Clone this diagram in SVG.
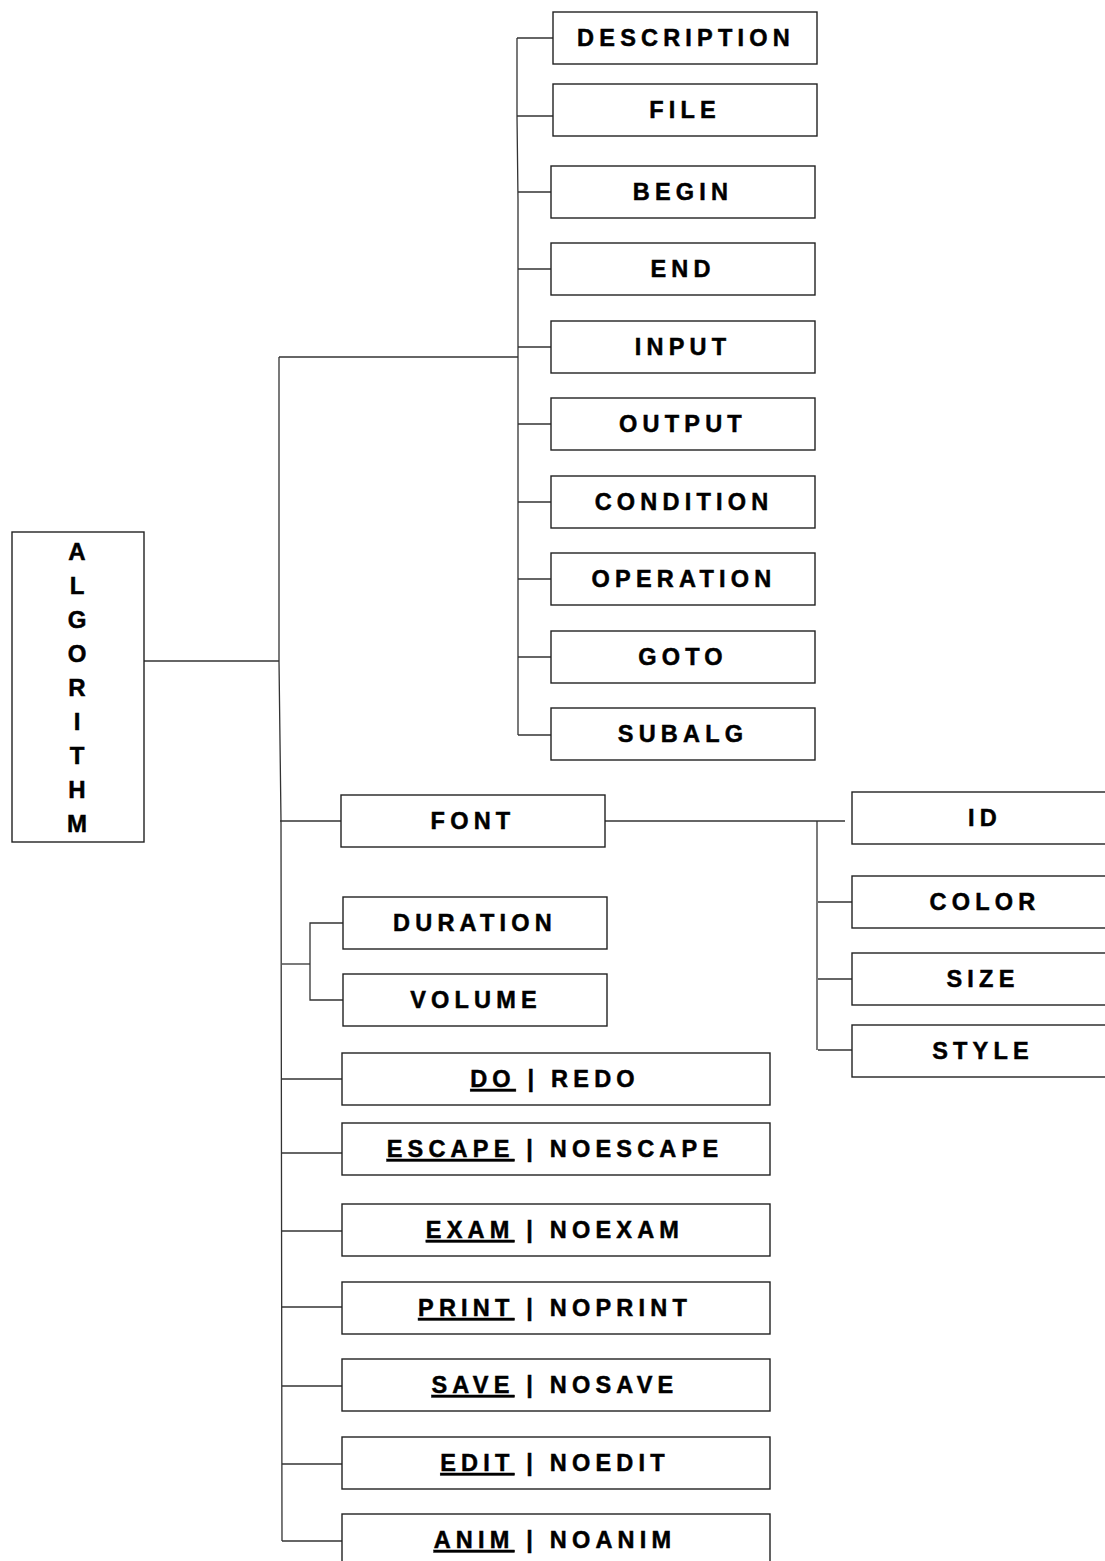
<svg xmlns="http://www.w3.org/2000/svg" width="1105" height="1561" viewBox="0 0 1105 1561">
  <style>
    .box { fill: #ffffff; stroke: #222222; stroke-width: 1.4; }
    .wire { fill: none; stroke: #333333; stroke-width: 1.3; }
    .lbl { font-family: "Liberation Sans", Arial, sans-serif; font-weight: bold; font-size: 23.5px; letter-spacing: 5.2px; fill: #000000; stroke: #000000; stroke-width: 0.5px; text-anchor: middle; white-space: pre; }
    .vert { font-family: "Liberation Sans", Arial, sans-serif; font-weight: bold; font-size: 24px; fill: #000000; stroke: #000000; stroke-width: 0.5px; text-anchor: middle; }
    .u { text-decoration: underline; }
  </style>

  <rect width="1105" height="1561" fill="#ffffff"/>

  <!-- connectors -->
  <g id="connectors">
    <!-- root to main spine -->
    <line class="wire" x1="144" y1="661" x2="279" y2="661"/>
    <polyline class="wire" points="279,357 279,661 281,821 282,1541"/>
    <line class="wire" x1="279" y1="357" x2="518" y2="357"/>
    <!-- header column spine -->
    <polyline class="wire" points="517,38 517,116 518,200 518,735"/>
    <line class="wire" x1="517" y1="38" x2="553" y2="38"/>
    <line class="wire" x1="517" y1="116" x2="553" y2="116"/>
    <line class="wire" x1="518" y1="192" x2="551" y2="192"/>
    <line class="wire" x1="518" y1="269" x2="551" y2="269"/>
    <line class="wire" x1="518" y1="347" x2="551" y2="347"/>
    <line class="wire" x1="518" y1="424" x2="551" y2="424"/>
    <line class="wire" x1="518" y1="502" x2="551" y2="502"/>
    <line class="wire" x1="518" y1="579" x2="551" y2="579"/>
    <line class="wire" x1="518" y1="657" x2="551" y2="657"/>
    <line class="wire" x1="518" y1="735" x2="551" y2="735"/>
    <!-- FONT branch -->
    <line class="wire" x1="280" y1="821" x2="341" y2="821"/>
    <line class="wire" x1="605" y1="821" x2="668" y2="821"/>
    <line class="wire" x1="668" y1="821" x2="845" y2="821"/>
    <line class="wire" x1="817" y1="821" x2="817" y2="1050"/>
    <line class="wire" x1="818" y1="902" x2="852" y2="902"/>
    <line class="wire" x1="818" y1="979" x2="852" y2="979"/>
    <line class="wire" x1="818" y1="1050" x2="852" y2="1050"/>
    <!-- DURATION / VOLUME pair -->
    <line class="wire" x1="282" y1="964" x2="310" y2="964"/>
    <polyline class="wire" points="343,923 310,923 310,1000 343,1000"/>
    <!-- switch options -->
    <line class="wire" x1="282" y1="1079" x2="342" y2="1079"/>
    <line class="wire" x1="282" y1="1153" x2="342" y2="1153"/>
    <line class="wire" x1="282" y1="1231" x2="342" y2="1231"/>
    <line class="wire" x1="282" y1="1307" x2="342" y2="1307"/>
    <line class="wire" x1="282" y1="1386" x2="342" y2="1386"/>
    <line class="wire" x1="282" y1="1464" x2="342" y2="1464"/>
    <line class="wire" x1="282" y1="1541" x2="342" y2="1541"/>
  </g>

  <!-- root -->
  <g id="algorithm">
    <rect class="box" x="12" y="532" width="132" height="310"/>
    <text class="vert" x="77" y="560">A</text>
    <text class="vert" x="77" y="594">L</text>
    <text class="vert" x="77" y="628">G</text>
    <text class="vert" x="77" y="662">O</text>
    <text class="vert" x="77" y="696">R</text>
    <text class="vert" x="77" y="730">I</text>
    <text class="vert" x="77" y="764">T</text>
    <text class="vert" x="77" y="798">H</text>
    <text class="vert" x="77" y="832">M</text>
  </g>

  <!-- header column -->
  <g id="description"><rect class="box" x="553" y="12" width="264" height="52"/><text class="lbl" x="686" y="46">DESCRIPTION</text></g>
  <g id="file"><rect class="box" x="553" y="84" width="264" height="52"/><text class="lbl" x="685" y="118">FILE</text></g>
  <g id="begin"><rect class="box" x="551" y="166" width="264" height="52"/><text class="lbl" x="683" y="200">BEGIN</text></g>
  <g id="end"><rect class="box" x="551" y="243" width="264" height="52"/><text class="lbl" x="683" y="277">END</text></g>
  <g id="input"><rect class="box" x="551" y="321" width="264" height="52"/><text class="lbl" x="683" y="355">INPUT</text></g>
  <g id="output"><rect class="box" x="551" y="398" width="264" height="52"/><text class="lbl" x="683" y="432">OUTPUT</text></g>
  <g id="condition"><rect class="box" x="551" y="476" width="264" height="52"/><text class="lbl" x="684" y="510">CONDITION</text></g>
  <g id="operation"><rect class="box" x="551" y="553" width="264" height="52"/><text class="lbl" x="684" y="587">OPERATION</text></g>
  <g id="goto"><rect class="box" x="551" y="631" width="264" height="52"/><text class="lbl" x="683" y="665">GOTO</text></g>
  <g id="subalg"><rect class="box" x="551" y="708" width="264" height="52"/><text class="lbl" x="683" y="742">SUBALG</text></g>

  <!-- font branch -->
  <g id="font"><rect class="box" x="341" y="795" width="264" height="52"/><text class="lbl" x="473" y="829">FONT</text></g>
  <g id="font-id"><rect class="box" x="852" y="792" width="260" height="52"/><text class="lbl" x="985" y="826">ID</text></g>
  <g id="font-color"><rect class="box" x="852" y="876" width="260" height="52"/><text class="lbl" x="985" y="910">COLOR</text></g>
  <g id="font-size"><rect class="box" x="852" y="953" width="260" height="52"/><text class="lbl" x="983" y="987">SIZE</text></g>
  <g id="font-style"><rect class="box" x="852" y="1025" width="260" height="52"/><text class="lbl" x="983" y="1059">STYLE</text></g>

  <!-- sound settings -->
  <g id="duration"><rect class="box" x="343" y="897" width="264" height="52"/><text class="lbl" x="475" y="931">DURATION</text></g>
  <g id="volume"><rect class="box" x="343" y="974" width="264" height="52"/><text class="lbl" x="476" y="1008">VOLUME</text></g>

  <!-- switch options, default value underlined -->
  <g id="do-redo"><rect class="box" x="342" y="1053" width="428" height="52"/><text class="lbl" x="555" y="1087"><tspan class="u">DO</tspan> | REDO</text></g>
  <g id="escape"><rect class="box" x="342" y="1123" width="428" height="52"/><text class="lbl" x="555" y="1157"><tspan class="u">ESCAPE</tspan> | NOESCAPE</text></g>
  <g id="exam"><rect class="box" x="342" y="1204" width="428" height="52"/><text class="lbl" x="555" y="1238"><tspan class="u">EXAM</tspan> | NOEXAM</text></g>
  <g id="print"><rect class="box" x="342" y="1282" width="428" height="52"/><text class="lbl" x="555" y="1316"><tspan class="u">PRINT</tspan> | NOPRINT</text></g>
  <g id="save"><rect class="box" x="342" y="1359" width="428" height="52"/><text class="lbl" x="555" y="1393"><tspan class="u">SAVE</tspan> | NOSAVE</text></g>
  <g id="edit"><rect class="box" x="342" y="1437" width="428" height="52"/><text class="lbl" x="555" y="1471"><tspan class="u">EDIT</tspan> | NOEDIT</text></g>
  <g id="anim"><rect class="box" x="342" y="1514" width="428" height="60"/><text class="lbl" x="555" y="1548"><tspan class="u">ANIM</tspan> | NOANIM</text></g>
</svg>
